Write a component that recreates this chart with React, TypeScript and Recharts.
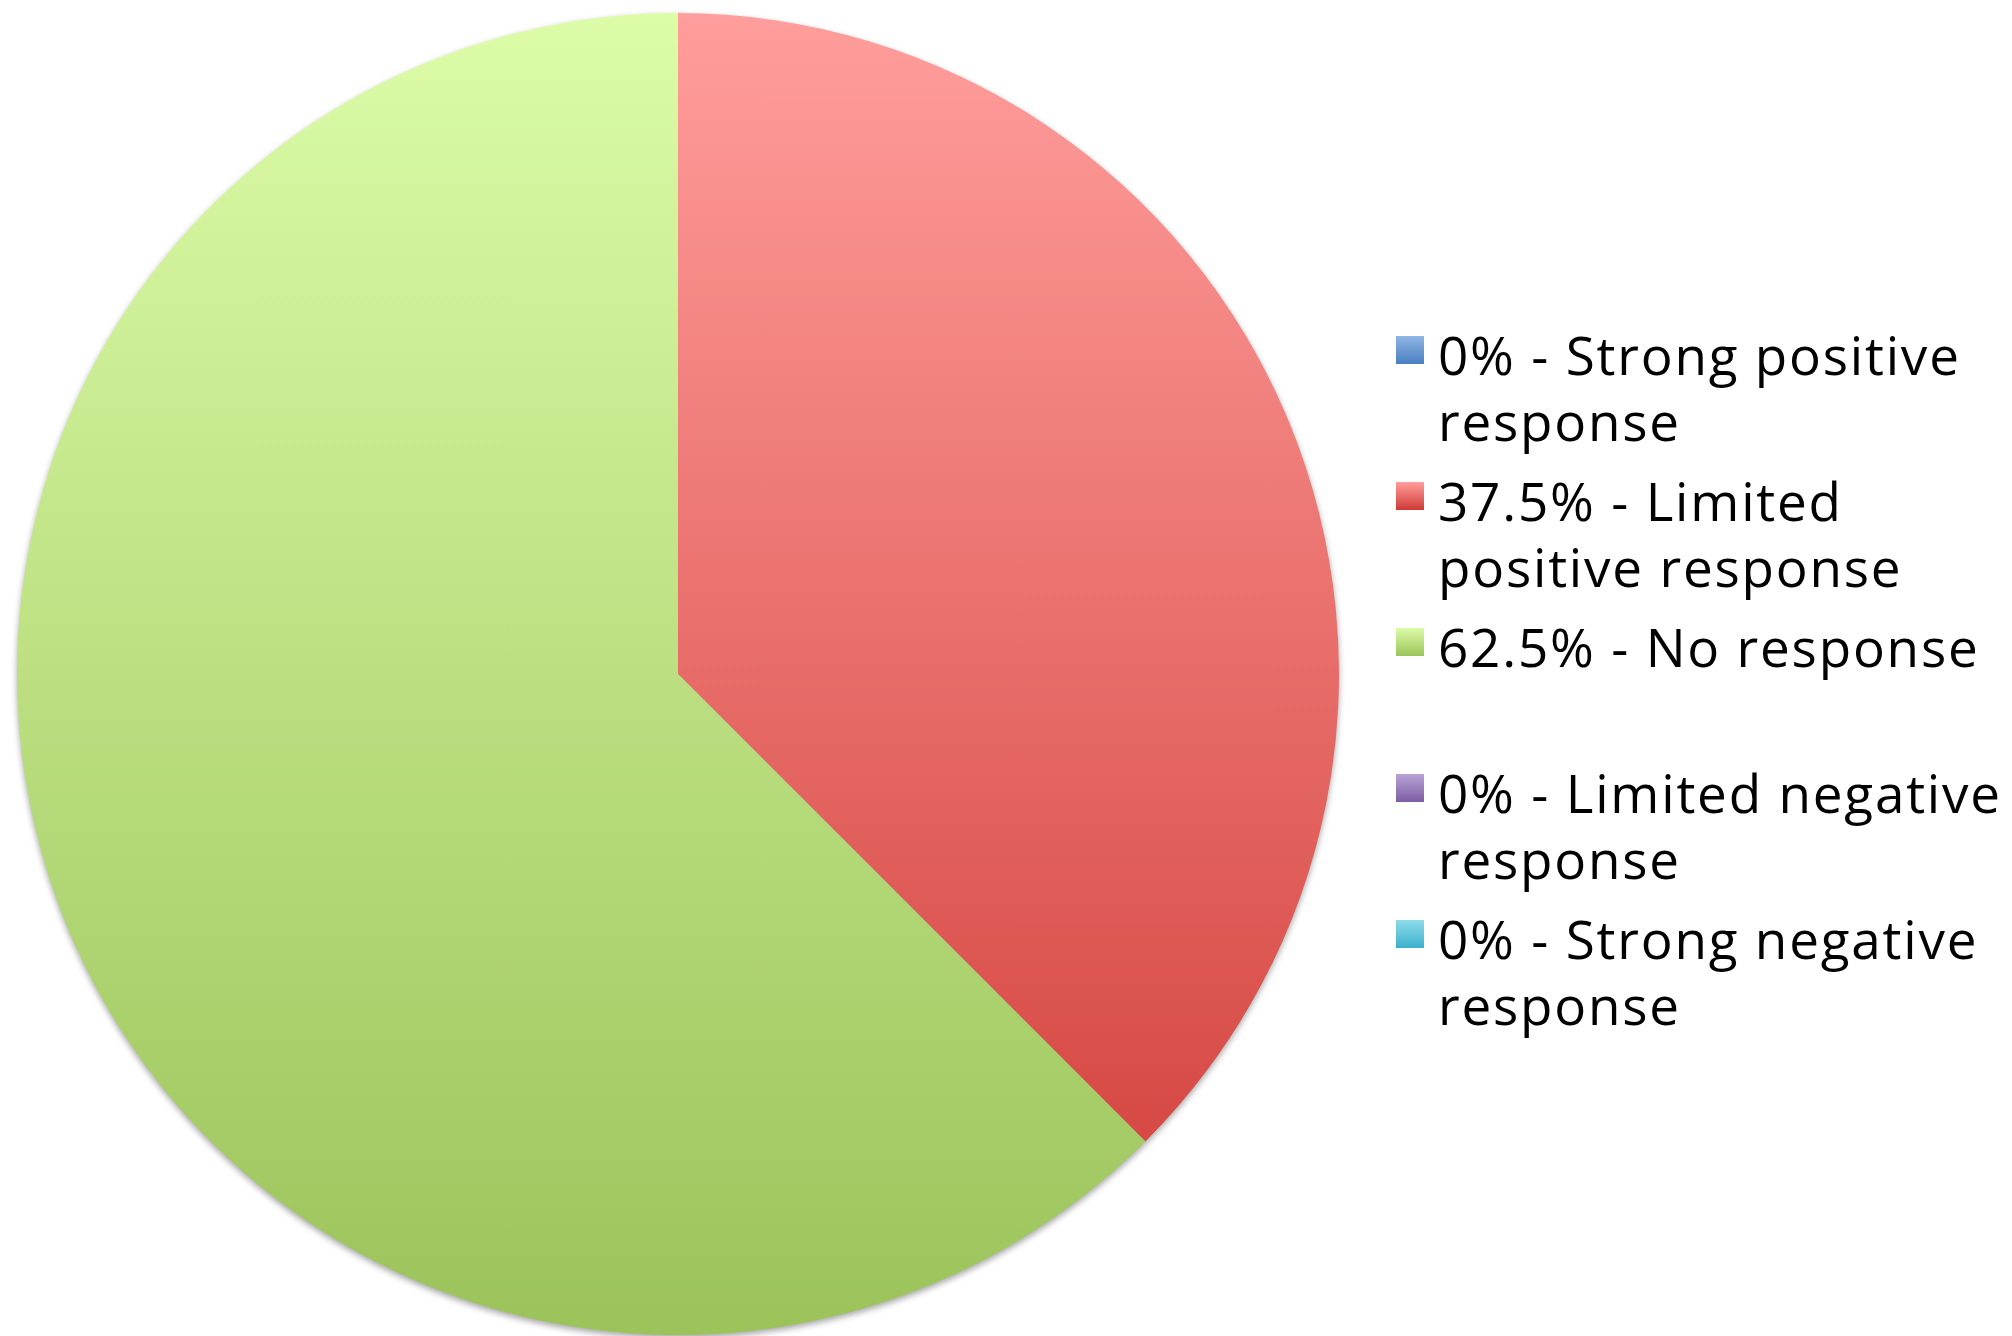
import React from "react";
import { PieChart, Pie, Cell, Legend } from "recharts";

const categories = [
  "Strong positive response",
  "Limited positive response",
  "No response",
  "Limited negative response",
  "Strong negative response",
];
const values = [0, 37.5, 62.5, 0, 0];
const legendLines = [
  ["0% - Strong positive", "response"],
  ["37.5% - Limited", "positive response"],
  ["62.5% - No response"],
  ["0% - Limited negative", "response"],
  ["0% - Strong negative", "response"],
];
const gradTop = ["#8fb6e6", "#ff9e9c", "#dcfca8", "#b9a3d6", "#8fdcec"];
const gradBottom = ["#4a7fc0", "#cf3a35", "#9bc35a", "#7d5ea3", "#3bb0cc"];

const data = categories.map((name, i) => ({ name, value: values[i] }));

const FONT = '"Open Sans", "DejaVu Sans", sans-serif';

const renderLegend = () => (
  <div style={{ fontFamily: FONT, fontSize: 53, lineHeight: "66px", color: "#000", letterSpacing: "1.8px" }}>
    {legendLines.map((lines, i) => (
      <div
        key={i}
        style={{
          position: "relative",
          paddingLeft: 42,
          marginTop: i === 0 ? 0 : i === 3 ? 80 : 14,
        }}
      >
        <div
          style={{
            position: "absolute",
            left: 0,
            top: 14,
            width: 28,
            height: 28,
            background: `linear-gradient(${gradTop[i]}, ${gradBottom[i]})`,
          }}
        />
        {lines.map((l, j) => (
          <div key={j} style={{ whiteSpace: "nowrap" }}>{l}</div>
        ))}
      </div>
    ))}
  </div>
);

export default function App() {
  return (
    <div style={{ position: "absolute", left: 0, top: 0, width: 2012, height: 1336, background: "#fff" }}>
      <style>{`.recharts-pie { filter: drop-shadow(0px 3px 3px rgba(0,0,0,0.35)); }`}</style>
      <PieChart width={2012} height={1336} margin={{ top: 0, right: 0, bottom: 0, left: 0 }}>
        <defs>
          {categories.map((c, i) => (
            <linearGradient key={c} id={`g${i}`} gradientUnits="userSpaceOnUse" x1="0" y1="12" x2="0" y2="1336">
              <stop offset="0" stopColor={gradTop[i]} />
              <stop offset="1" stopColor={gradBottom[i]} />
            </linearGradient>
          ))}
        </defs>
        <Pie
          data={data}
          dataKey="value"
          nameKey="name"
          cx={678}
          cy={674}
          outerRadius={661}
          startAngle={90}
          endAngle={-270}
          stroke="none"
          isAnimationActive={false}
          label={false}
          labelLine={false}
        >
          {data.map((d, i) => (
            <Cell key={d.name} fill={`url(#g${i})`} />
          ))}
        </Pie>
        <Legend
          content={renderLegend}
          wrapperStyle={{ position: "absolute", left: 1396, top: 322, width: 616, height: "auto" }}
        />
      </PieChart>
    </div>
  );
}
